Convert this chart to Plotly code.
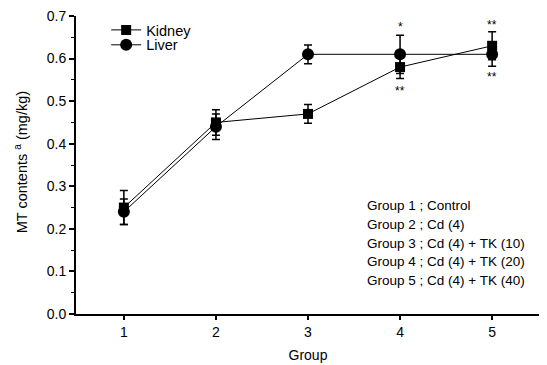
import plotly.graph_objects as go

groups = [1, 2, 3, 4, 5]
kidney = [0.25, 0.45, 0.47, 0.58, 0.63]
kidney_err = [0.04, 0.03, 0.022, 0.027, 0.033]
liver = [0.24, 0.44, 0.61, 0.61, 0.61]
liver_err = [0.03, 0.03, 0.022, 0.045, 0.028]
y_ticks = [0.0, 0.1, 0.2, 0.3, 0.4, 0.5, 0.6, 0.7]
legend_notes = ["Group 1 ; Control", "Group 2 ; Cd (4)", "Group 3 ; Cd (4) + TK (10)",
                "Group 4 ; Cd (4) + TK (20)", "Group 5 ; Cd (4) + TK (40)"]
sig_marks = [(4, 0.673, "*"), (4, 0.523, "**"), (5, 0.68, "**"), (5, 0.556, "**")]

FONT = "Liberation Sans, Arial, sans-serif"

fig = go.Figure()
fig.add_trace(go.Scatter(
    x=groups, y=kidney, name="Kidney", mode="lines+markers",
    line=dict(color="black", width=1),
    marker=dict(symbol="square", size=10, color="black"),
    error_y=dict(type="data", array=kidney_err, color="black", thickness=1.5, width=4),
    legend="legend",
))
fig.add_trace(go.Scatter(
    x=groups, y=liver, name="Liver", mode="lines+markers",
    line=dict(color="black", width=1),
    marker=dict(symbol="circle", size=12, color="black"),
    error_y=dict(type="data", array=liver_err, color="black", thickness=1.5, width=4),
    legend="legend2",
))

for gx, gy, txt in sig_marks:
    fig.add_annotation(x=gx, y=gy, text=txt, showarrow=False,
                       font=dict(family=FONT, size=12, color="#000000"))

# note block, one line per annotation
for i, note in enumerate(legend_notes):
    fig.add_annotation(
        x=0.623, y=0.363 - i * 0.0625, xref="paper", yref="paper",
        xanchor="left", yanchor="middle", align="left", showarrow=False,
        text=note, font=dict(family=FONT, size=13.5, color="black"),
    )

# y-axis title drawn as rotated annotation
fig.add_annotation(
    x=-0.118, y=0.51, xref="paper", yref="paper", xanchor="center", yanchor="middle",
    textangle=-90, showarrow=False, text="MT contents <sup>a</sup> (mg/kg)",
    font=dict(family=FONT, size=14.5, color="black"),
)

leg_common = dict(x=0.065, xanchor="left", yanchor="middle",
                  bgcolor="rgba(0,0,0,0)", font=dict(size=14.5), itemwidth=30)

fig.update_layout(
    width=539, height=357,
    margin=dict(l=68, r=7, t=7, b=51),
    paper_bgcolor="white", plot_bgcolor="white",
    font=dict(family=FONT, size=14, color="black"),
    showlegend=True,
    legend=dict(y=0.95, **leg_common),
    legend2=dict(y=0.90, **leg_common),
    xaxis=dict(
        range=[0.48, 5.52], tickvals=groups, ticktext=[str(g) for g in groups],
        showline=True, linecolor="black", linewidth=2, ticks="outside",
        tickwidth=1.5, ticklen=4, tickcolor="black", showgrid=False, zeroline=False,
        title=dict(text="Group", font=dict(size=14), standoff=11),
        automargin=False, mirror=False,
    ),
    yaxis=dict(
        range=[0, 0.7], tickvals=y_ticks, ticktext=[f"{v:.1f}" for v in y_ticks],
        showline=True, linecolor="black", linewidth=2, ticks="outside",
        tickwidth=1.5, ticklen=5, tickcolor="black", showgrid=False, zeroline=False,
        ticklabeloverflow="allow",
        minor=dict(dtick=0.05, ticks="outside", ticklen=3, tickcolor="black", tickwidth=1, showgrid=False),
        automargin=False,
    ),
)

fig.write_html("out.html")
